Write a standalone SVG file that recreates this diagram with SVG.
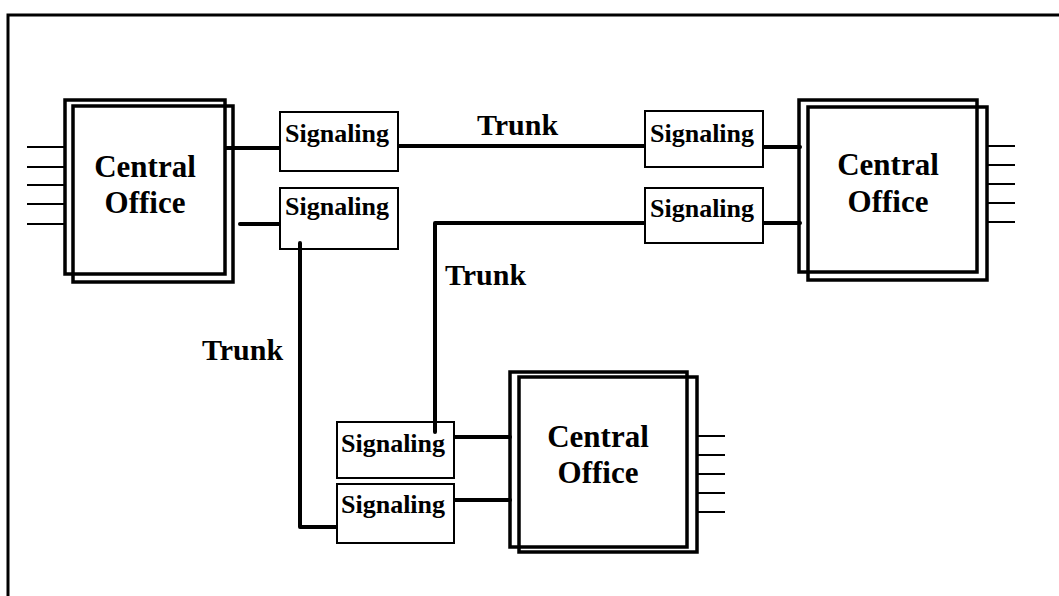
<svg xmlns="http://www.w3.org/2000/svg" width="1059" height="596" viewBox="0 0 1059 596">
<style>
.co{fill:none;stroke:#000;stroke-width:3.5}
.sig{fill:#fff;stroke:#000;stroke-width:2}
.ln{fill:none;stroke:#000;stroke-width:4;stroke-linejoin:round;stroke-linecap:round}
.th{fill:none;stroke:#000;stroke-width:2.2}
.t{font-family:"Liberation Serif","Times New Roman",serif;font-weight:bold;fill:#000}
.big{font-size:31px;text-anchor:middle}
.sm{font-size:26px}
.tr{font-size:30px}
</style>
<rect width="1059" height="596" fill="#fff"/>
<g id="frame"><path d="M8,596 V15 H1059" fill="none" stroke="#000" stroke-width="3"/></g>
<g id="connectors">
<path class="ln" d="M226,148 H280"/>
<path class="ln" d="M240,224 H280"/>
<path class="ln" d="M398,146 H645"/>
<path class="ln" d="M763,147 H800"/>
<path class="ln" d="M763,223 H800"/>
<path class="ln" d="M645,223 H435 V432"/>
<path class="ln" d="M300,243 V527 H337"/>
<path class="ln" d="M454,437 H510"/>
<path class="ln" d="M454,500 H510"/>
<text class="t tr" x="477" y="135">Trunk</text>
<text class="t tr" x="445" y="285">Trunk</text>
<text class="t tr" x="202" y="360">Trunk</text>
</g>
<g id="co-left">
<path class="th" d="M27,147 H66 M27,167 H66 M27,185 H66 M27,204 H66 M27,224 H66"/>
<rect class="co" x="65" y="100" width="160" height="174"/>
<rect class="co" x="73" y="106" width="160" height="176"/>
<text class="t big" x="145" y="177">Central</text>
<text class="t big" x="145" y="213">Office</text>
</g>
<g id="co-right">
<path class="th" d="M986,146 H1015 M986,165 H1015 M986,184 H1015 M986,203 H1015 M986,222 H1015"/>
<rect class="co" x="799" y="100" width="178" height="172"/>
<rect class="co" x="808" y="107" width="179" height="173"/>
<text class="t big" x="888" y="175">Central</text>
<text class="t big" x="888" y="212">Office</text>
</g>
<g id="co-bottom">
<path class="th" d="M696,436 H725 M696,455 H725 M696,474 H725 M696,493 H725 M696,512 H725"/>
<rect class="co" x="510" y="372" width="177" height="175"/>
<rect class="co" x="519" y="377" width="178" height="175"/>
<text class="t big" x="598" y="447">Central</text>
<text class="t big" x="598" y="483">Office</text>
</g>
<g id="sig-l1"><rect class="sig" x="280" y="112" width="118" height="59"/><text class="t sm" x="285" y="142">Signaling</text></g>
<g id="sig-l2"><rect class="sig" x="280" y="188" width="118" height="61"/><text class="t sm" x="285" y="215">Signaling</text></g>
<g id="sig-r1"><rect class="sig" x="645" y="111" width="118" height="56"/><text class="t sm" x="650" y="142">Signaling</text></g>
<g id="sig-r2"><rect class="sig" x="645" y="188" width="118" height="55"/><text class="t sm" x="650" y="217">Signaling</text></g>
<g id="sig-b1"><rect class="sig" x="337" y="422" width="117" height="56"/><text class="t sm" x="341" y="452">Signaling</text></g>
<g id="sig-b2"><rect class="sig" x="337" y="484" width="117" height="59"/><text class="t sm" x="341" y="513">Signaling</text></g>
<path class="ln" d="M300,243 V252"/>
<path class="ln" d="M435,420 V432"/>
</svg>
